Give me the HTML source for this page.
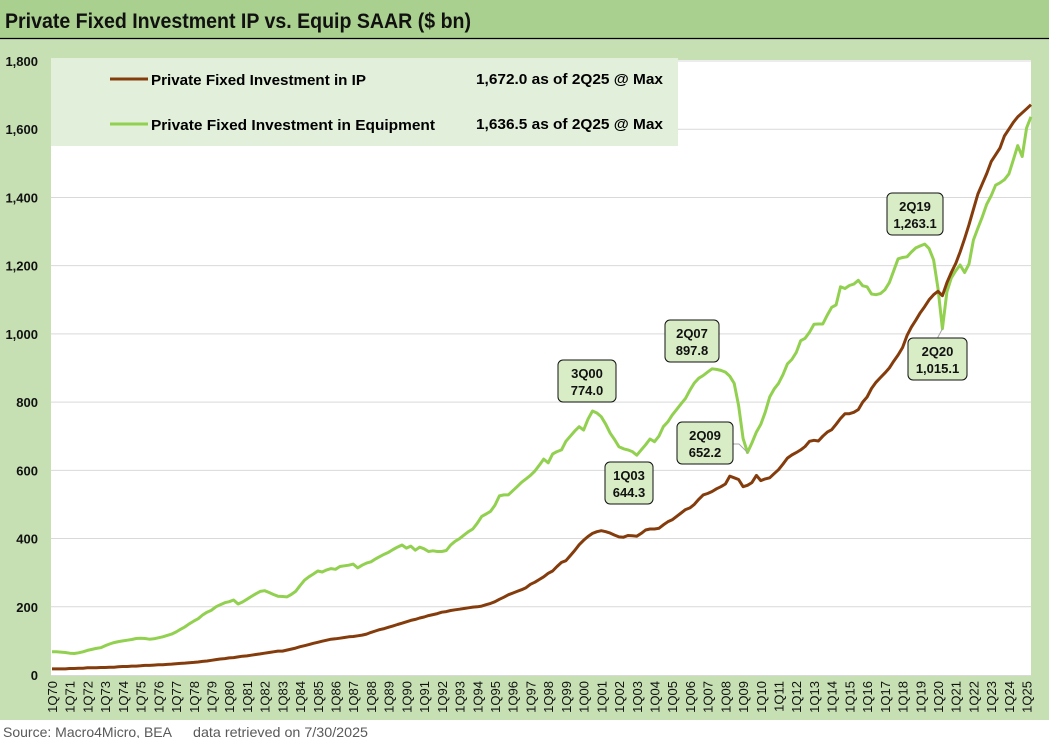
<!DOCTYPE html>
<html><head><meta charset="utf-8"><style>
html,body{margin:0;padding:0;background:#fff;}
svg{display:block;font-family:"Liberation Sans",Arial,sans-serif;}
</style></head><body>
<svg id="chart" width="1049" height="738" viewBox="0 0 1049 738" xmlns="http://www.w3.org/2000/svg">
<rect x="0" y="0" width="1049" height="720" fill="#c6e0b4"/>
<rect x="0" y="0" width="1049" height="38" fill="#a9d08e"/>
<line x1="0" y1="38.5" x2="1049" y2="38.5" stroke="#000" stroke-width="1.2"/>
<text x="5" y="28" font-size="21" font-weight="bold" fill="#111" textLength="466" lengthAdjust="spacingAndGlyphs">Private Fixed Investment IP vs. Equip SAAR ($ bn)</text>
<rect x="51" y="60" width="980" height="615" fill="#fff"/>
<g id="grid"></g>
<g id="yticks"></g>
<g id="xticks"></g>
<rect x="51" y="58" width="627" height="88" fill="#e2efda"/>
<g>
<line x1="110" y1="79" x2="148" y2="79" stroke="#843c0c" stroke-width="3"/>
<text x="151" y="85" font-size="15" font-weight="bold" textLength="215" lengthAdjust="spacingAndGlyphs">Private Fixed Investment in IP</text>
<text x="476" y="84" font-size="15" font-weight="bold" textLength="187" lengthAdjust="spacingAndGlyphs">1,672.0 as of 2Q25 @ Max</text>
</g>
<g>
<line x1="110" y1="124" x2="148" y2="124" stroke="#92d050" stroke-width="3"/>
<text x="151" y="130" font-size="15" font-weight="bold" textLength="284" lengthAdjust="spacingAndGlyphs">Private Fixed Investment in Equipment</text>
<text x="476" y="129" font-size="15" font-weight="bold" textLength="187" lengthAdjust="spacingAndGlyphs">1,636.5 as of 2Q25 @ Max</text>
</g>
<g id="series"></g>
<g id="annots"></g>
<rect x="0" y="720" width="1049" height="18" fill="#fff"/>
<text x="3" y="737" font-size="14" fill="#595959" textLength="169" lengthAdjust="spacingAndGlyphs">Source: Macro4Micro, BEA</text>
<text x="193" y="737" font-size="14" fill="#595959" textLength="175" lengthAdjust="spacingAndGlyphs">data retrieved on 7/30/2025</text>
</svg>
<script>
const yTicks = [0,200,400,600,800,1000,1200,1400,1600,1800];
const yTickLabels = ["0","200","400","600","800","1,000","1,200","1,400","1,600","1,800"];
const xYears = [];
for (let y = 1970; y <= 2025; y++) xYears.push(y);
const equipment = [
68,68,67,66, 64,63,65,68, 72,75,78,80, 86,91,95,98, 100,102,104,107,
108,107,105,106, 109,112,116,120, 126,134,141,150, 158,165,176,184, 190,200,206,212,
215,220,208,214, 222,230,238,245, 247,242,236,231, 230,229,236,245, 262,278,288,296,
305,302,308,312, 310,318,320,322, 325,314,322,328, 332,340,347,354, 360,368,375,381,
372,378,366,375, 370,362,364,362, 362,365,381,392, 400,410,420,428, 445,465,472,480,
498,525,528,528, 540,552,565,575, 585,598,615,633, 622,648,655,660, 685,700,715,728,
718,750,774,768, 757,735,709,690, 669,663,660,655, 644.3,660,675,692, 684,700,728,742,
762,778,795,811, 835,856,870,878, 888,897.8,896,893, 888,876,855,790, 693,652.2,680,712,
735,770,815,838, 855,880,912,925, 945,980,987,1005, 1028,1029,1029,1055, 1078,1085,1138,1133,
1142,1146,1157,1141, 1138,1117,1115,1118, 1129,1150,1185,1220, 1224,1226,1240,1252, 1258,1263.1,1250,1217,
1133,1015.1,1123,1164, 1185,1202,1180,1205, 1275,1310,1343,1380, 1405,1436,1443,1452, 1469,1510,1552,1520,
1604,1636.5];
const ip = [
18,18,18,18, 19,19,20,20, 21,21,21,22, 22,23,23,24, 25,25,26,26,
27,28,28,29, 30,30,31,32, 33,34,35,36, 37,38,40,41, 43,45,47,48,
50,51,53,55, 56,58,60,62, 64,66,68,70, 70,73,76,79, 83,86,89,93,
96,99,102,105, 106,108,110,112, 113,115,117,120, 125,129,133,136, 140,144,148,152,
156,160,163,167, 170,174,177,180, 184,186,189,191, 193,195,197,199, 200,202,206,210,
215,222,228,235, 240,245,250,256, 266,272,280,288, 298,305,318,330, 335,350,365,382,
395,406,415,420, 423,420,416,410, 405,404,409,408, 407,415,425,428, 428,430,440,449,
455,465,475,485, 490,500,515,528, 532,538,546,552, 560,583,578,573, 552,556,564,585,
570,575,578,590, 602,618,636,645, 652,660,670,685, 688,686,700,712, 719,735,752,766,
766,770,778,800, 815,840,858,872, 885,900,920,938, 960,995,1020,1040, 1062,1080,1100,1115,
1125,1112,1150,1180, 1206,1240,1279,1320, 1365,1410,1440,1470, 1505,1525,1545,1580, 1600,1620,1636,1648,
1660,1672];
const annotations = [
  {label:"3Q00", value:"774.0", idx:122, bx:558, by:360, w:58},
  {label:"2Q07", value:"897.8", idx:149, bx:665, by:320, w:54},
  {label:"1Q03", value:"644.3", idx:132, bx:605, by:462, w:48},
  {label:"2Q09", value:"652.2", idx:157, bx:677, by:422, w:56, conn:"right"},
  {label:"2Q19", value:"1,263.1", idx:197, bx:887, by:193, w:56},
  {label:"2Q20", value:"1,015.1", idx:201, bx:908, by:338, w:59, conn:"top"}
];
const NS = "http://www.w3.org/2000/svg";
const X0 = 52, DX = 4.43, Y0 = 675, YTOP = 61, YMAX = 1800;
function xScale(i){ return X0 + DX*i; }
function yScale(v){ return Y0 - (v/YMAX)*(Y0-YTOP); }
function mk(tag, attrs, parent){ const e = document.createElementNS(NS, tag); for (const k in attrs) e.setAttribute(k, attrs[k]); parent.appendChild(e); return e; }
const grid = document.getElementById('grid'), yt = document.getElementById('yticks'), xt = document.getElementById('xticks');
yTicks.forEach((v, k) => {
  if (v > 0) {
    const g = mk('line', {x1:51, x2:1031, y1:yScale(v), y2:yScale(v), stroke:'#d9d9d9', 'stroke-width':1}, grid);
    
    
  }
  const t = mk('text', {x:38, y:yScale(v)+5, 'font-size':13, 'font-weight':'bold', 'text-anchor':'end', fill:'#111'}, yt);
  t.textContent = yTickLabels[k];
  
  
});
mk('line', {x1:51, x2:1031, y1:675.5, y2:675.5, stroke:'#d9d9d9', 'stroke-width':1}, grid);
xYears.forEach((yr, k) => {
  const x = xScale(k*4) + 5;
  const t = mk('text', {x:0, y:0, 'font-size':13, 'text-anchor':'end', fill:'#111', transform:`translate(${x},681) rotate(-90)`}, xt);
  t.textContent = '1Q' + String(yr % 100).padStart(2, '0');
  
  
});
const series = document.getElementById('series');
function drawLine(arr, color, name){
  const d = arr.map((v,i) => (i ? 'L' : 'M') + xScale(i).toFixed(1) + ',' + yScale(v).toFixed(1)).join(' ');
  const p = mk('path', {d:d, fill:'none', stroke:color, 'stroke-width':3, 'stroke-linejoin':'round'}, series);
  
  
}
drawLine(equipment, '#92d050', 'equipment-line');
drawLine(ip, '#843c0c', 'ip-line');
const an = document.getElementById('annots');
annotations.forEach(a => {
  const px = xScale(a.idx), py = yScale(equipment[a.idx]);
  if (a.conn === 'right') {
    mk('polyline', {points:`${a.bx+a.w},${a.by+22} ${a.bx+a.w+6},${a.by+22} ${px},${py}`, fill:'none', stroke:'#a6a6a6', 'stroke-width':1}, an);
  } else if (a.conn === 'top') {
    mk('line', {x1:a.bx+a.w/2, y1:a.by, x2:px, y2:py, stroke:'#a6a6a6', 'stroke-width':1}, an);
  }
  const g = mk('g', {}, an);
  
  
  mk('rect', {x:a.bx, y:a.by, width:a.w, height:42, rx:5, ry:5, fill:'#d8edc6', stroke:'#111', 'stroke-width':1}, g);
  const t1 = mk('text', {x:a.bx+a.w/2, y:a.by+18, 'font-size':13, 'font-weight':'bold', 'text-anchor':'middle', fill:'#111'}, g);
  t1.textContent = a.label;
  const t2 = mk('text', {x:a.bx+a.w/2, y:a.by+35, 'font-size':13, 'font-weight':'bold', 'text-anchor':'middle', fill:'#111'}, g);
  t2.textContent = a.value;
});
</script>
</body></html>
